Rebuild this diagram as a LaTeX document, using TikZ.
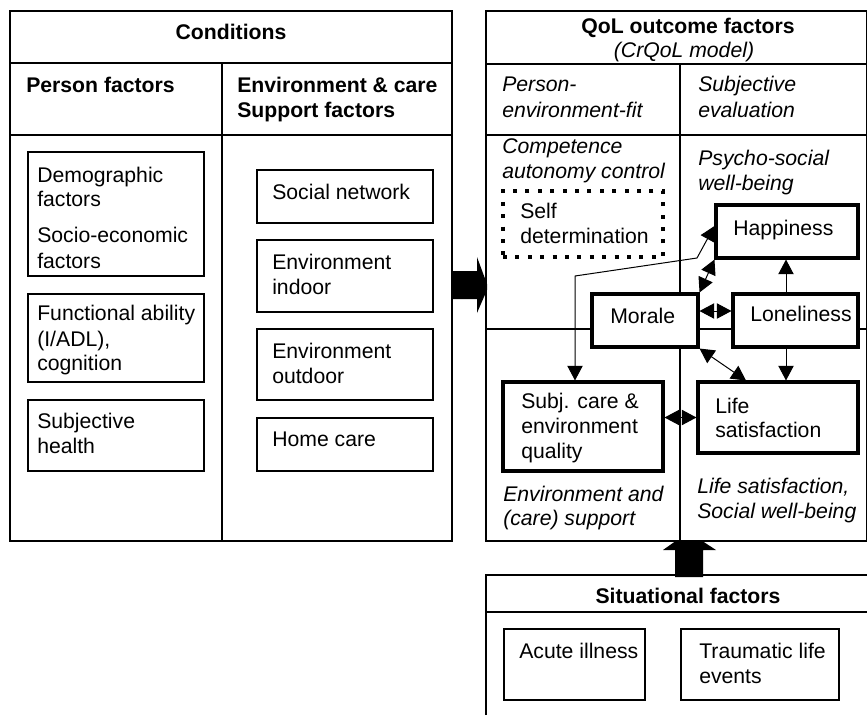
\documentclass[tikz,border=0pt]{standalone}
\usepackage{fontspec}
\setmainfont{Liberation Sans}
\usetikzlibrary{arrows.meta,fit}
\newcounter{tcount}
\newcommand\tx[4][]{\stepcounter{tcount}\node[txt,#1] (t\arabic{tcount}) at (#2,#3) {#4};}
\begin{document}
\begin{tikzpicture}[x=0.75pt,y=-0.75pt,
 every node/.style={font=\fontsize{15.9}{19}\selectfont, inner sep=0pt},
 txt/.style={anchor=base west},
 ctxt/.style={anchor=base},
 hdr/.style={font=\fontsize{15.9}{19}\selectfont\bfseries},
 it/.style={font=\fontsize{15.9}{19}\selectfont\itshape},
 panel/.style={line width=0.8pt},
 thinbox/.style={draw, line width=1pt, inner sep=0pt, fill=white},
 thickbox/.style={draw, line width=2.3pt, inner sep=0pt, fill=white},
 dotbox/.style={draw, line width=2.3pt, dash pattern=on 3pt off 6.3pt, inner sep=0pt},
 arr/.style={line width=0.75pt, -{Triangle[length=11pt,width=11.5pt]}},
 darr/.style={line width=0.75pt, {Triangle[length=11pt,width=11.5pt]}-{Triangle[length=11pt,width=11.5pt]}},
 bigarr/.style={fill=black}
]
\useasboundingbox (0,0) rectangle (867,715);

% ---------- Conditions panel ----------
\draw[panel] (10,11) rectangle (452,541);
\draw[panel] (10,63) -- (452,63);
\draw[panel] (10,135) -- (452,135);
\draw[panel] (222,63) -- (222,541);

% ---------- QoL panel ----------
\draw[panel] (486,11) -- (866.5,11) -- (866.5,541) -- (486,541) -- cycle;
\draw[panel] (486,64) -- (866.5,64);
\draw[panel] (486,135) -- (866.5,135);
\draw[panel] (680,64) -- (680,541);
\draw[panel] (486,329) -- (866.5,329);

% ---------- Situational panel ----------
\draw[panel] (486,715) -- (486,575) -- (867,575);
\draw[panel] (486,612) -- (867,612);

% ---------- big arrows ----------
\fill[bigarr] (452,271) -- (477,271) -- (477,257) -- (487,284) -- (487,290) -- (477,313) -- (477,299) -- (452,299) -- cycle;
\fill[bigarr] (675,577) -- (675,550) -- (663,550) -- (675,541.5) -- (703,541.5) -- (716,550) -- (703,550) -- (703,577) -- cycle;

% ---------- boxes ----------
\node[thinbox, fit={(28,152) (204,276)}] (demo) {};
\node[thinbox, fit={(28,294) (204,382)}] (func) {};
\node[thinbox, fit={(28,400) (204,471)}] (subh) {};
\node[thinbox, fit={(257,170) (433,223)}] (soc) {};
\node[thinbox, fit={(257,240) (433,312)}] (ind) {};
\node[thinbox, fit={(257,329) (433,400)}] (out) {};
\node[thinbox, fit={(257,418) (433,471)}] (home) {};
\node[dotbox, fit={(503,191) (663,257)}] (self) {};
\node[thickbox, fit={(716,205) (858,258)}] (hap) {};
\node[thickbox, fit={(592,294) (698,347)}] (mor) {};
\node[thickbox, fit={(733,294) (858,347)}] (lone) {};
\node[thickbox, fit={(503,382) (663,471)}] (subj) {};
\node[thickbox, fit={(698,382) (858,453)}] (life) {};
\node[thinbox, fit={(504,629) (645,700)}] (acute) {};
\node[thinbox, fit={(681,629) (839,700)}] (trauma) {};

% ---------- texts: Conditions ----------
\tx[hdr,ctxt]{231}{39}{Conditions}
\tx[hdr]{26}{92}{Person factors}
\tx[hdr]{237}{92}{Environment \& care}
\tx[hdr]{237}{117}{Support factors}
\tx{37}{182}{Demographic}
\tx{37}{206}{factors}
\tx{37}{242}{Socio-economic}
\tx{37}{268}{factors}
\tx{37}{320}{Functional ability}
\tx{37}{346}{(I/ADL),}
\tx{37}{370}{cognition}
\tx{37}{428}{Subjective}
\tx{37}{453}{health}
\tx{272}{199}{Social network}
\tx{272}{269}{Environment}
\tx{272}{294}{indoor}
\tx{272}{358}{Environment}
\tx{272}{383}{outdoor}
\tx{272}{446}{Home care}

% ---------- texts: QoL ----------
\tx[hdr,ctxt]{688}{33}{QoL outcome factors}
\tx[it,ctxt]{684}{57}{(CrQoL model)}
\tx[it]{502}{91}{Person-}
\tx[it]{502}{117}{environment-fit}
\tx[it]{698}{91}{Subjective}
\tx[it]{698}{117}{evaluation}
\tx[it]{502}{153}{Competence}
\tx[it]{502}{178}{autonomy control}
\tx[it]{698}{165}{Psycho-social}
\tx[it]{698}{190}{well-being}
\tx{520}{218}{Self}
\tx{520}{243}{determination}
\tx{733}{235}{Happiness}
\tx{610}{323}{Morale}
\tx{750}{321}{Loneliness}
\tx{521}{408}{Subj. care \&}
\tx{521}{433}{environment}
\tx{521}{458}{quality}
\tx{715}{413}{Life}
\tx{715}{437}{satisfaction}
\tx[it]{503}{501}{Environment and}
\tx[it]{503}{525}{(care) support}
\tx[it]{697}{493}{Life satisfaction,}
\tx[it]{697}{518}{Social well-being}

% ---------- texts: Situational ----------
\tx[hdr,ctxt]{688}{603}{Situational factors}
\tx{519}{658}{Acute illness}
\tx{699}{658}{Traumatic life}
\tx{699}{683}{events}

% ---------- connectors ----------
\coordinate (c786) at (786,0);
\coordinate (c311) at (0,311);
\coordinate (c746) at (746,0);
\coordinate (c575) at (575,0);
\coordinate (k1) at (575,276);
\coordinate (k2) at (697,258);
\coordinate (c226) at (0,226);
\draw[arr] (lone.north -| c786) -- (hap.south -| c786);
\draw[arr] (lone.south -| c786) -- (life.north -| c786);
\draw[darr] (mor.east |- c311) -- (lone.west |- c311);
\draw[darr] (mor.north east) -- (hap.south west);
\draw[darr] (mor.south east) -- (life.north -| c746);
\draw[darr] (subj.east |- life.west) -- (life.west);
\draw[darr] (subj.north -| c575) -- (k1) -- (k2) -- (hap.west |- c226);
\end{tikzpicture}
\end{document}
